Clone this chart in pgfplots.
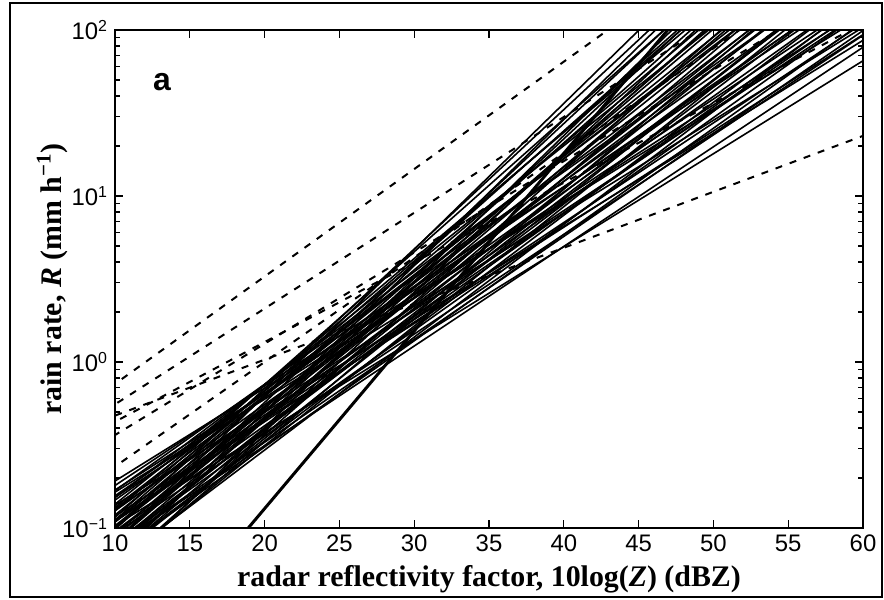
\documentclass[border=0pt]{standalone}
\usepackage{fontspec}
\setmainfont{Liberation Serif}
\setsansfont{Liberation Sans}
\usepackage{pgfplots}
\pgfplotsset{compat=1.18}
\pgfplotsset{
  zr/.style={black, line width=0.8bp, mark=none},
  zd/.style={black, line width=1bp, mark=none, dash pattern=on 3.5bp off 4bp},
}
\begin{document}
\begin{tikzpicture}
\useasboundingbox (0,0) rectangle (442bp,300bp);
\draw[line width=0.9bp] (5bp,1.5bp) rectangle (441bp,298.5bp);
\begin{axis}[
  at={(57.5bp,36bp)}, anchor=south west,
  width=374bp, height=249bp, scale only axis,
  xmin=10, xmax=60, ymin=0.1, ymax=100, ymode=log,
  xtick={10,15,...,60},
  ytick={0.1,1,10,100},
  yticklabels={10\textsuperscript{−1},10\textsuperscript{0},10\textsuperscript{1},10\textsuperscript{2}},
  /pgf/number format/assume math mode=true,
  ticklabel style={font=\fontsize{12}{14}\sffamily},
  major tick length=4bp, minor tick length=2.5bp,
  every tick/.style={black, line width=0.6bp},
  axis line style={line width=0.9bp},
  xlabel={\bfseries radar reflectivity factor, 10log(\textit{Z}) (dBZ)},
  ylabel={\bfseries rain rate, \textit{R} (mm h\textsuperscript{−1})},
  xlabel style={at={(axis description cs:0.5,-0.1165)}, anchor=base, font=\fontsize{15}{18}\selectfont},
  ylabel style={at={(axis description cs:-0.0722,0.5)}, anchor=base, rotate=0, font=\fontsize{15}{18}\selectfont},
  clip=true,
]
% dashed relations
\addplot[zd] coordinates {(-18.87,0.01) (42.95,100)};
\addplot[zd] coordinates {(-20.24,0.01) (49.08,100)};
\addplot[zd] coordinates {(-24.17,0.01) (59.17,100)};
\addplot[zd] coordinates {(-39.76,0.01) (78.92,100)};
\addplot[zd] coordinates {(-11.75,0.01) (51.75,100)};
\addplot[zd] coordinates {(-18.36,0.01) (54.36,100)};
% solid relations (crossing R=0.01 and R=100)
\addplot[zr] coordinates {(-12.91,0.01) (58.51,100)};
\addplot[zr] coordinates {(-11.71,0.01) (59.71,100)};
\addplot[zr] coordinates {(-10.31,0.01) (61.11,100)};
\addplot[zr] coordinates {(-8.11,0.01) (63.31,100)};
\addplot[zr] coordinates {(-11.18,0.01) (57.78,100)};
\addplot[zr] coordinates {(-8.48,0.01) (60.48,100)};
\addplot[zr] coordinates {(-10.93,0.01) (55.73,100)};
\addplot[zr] coordinates {(-9.73,0.01) (56.93,100)};
\addplot[zr] coordinates {(-8.53,0.01) (58.13,100)};
\addplot[zr] coordinates {(-7.33,0.01) (59.33,100)};
\addplot[zr] coordinates {(-6.13,0.01) (60.53,100)};
\addplot[zr] coordinates {(-4.93,0.01) (61.73,100)};
\addplot[zr] coordinates {(-9.26,0.01) (55.26,100)};
\addplot[zr] coordinates {(-6.76,0.01) (57.76,100)};
\addplot[zr] coordinates {(-4.46,0.01) (60.06,100)};
\addplot[zr] coordinates {(-9.15,0.01) (53.35,100)};
\addplot[zr] coordinates {(-8.25,0.01) (54.25,100)};
\addplot[zr] coordinates {(-7.25,0.01) (55.25,100)};
\addplot[zr] coordinates {(-6.25,0.01) (56.25,100)};
\addplot[zr] coordinates {(-5.25,0.01) (57.25,100)};
\addplot[zr] coordinates {(-4.25,0.01) (58.25,100)};
\addplot[zr] coordinates {(-3.25,0.01) (59.25,100)};
\addplot[zr] coordinates {(-7.41,0.01) (51.41,100)};
\addplot[zr] coordinates {(-6.41,0.01) (52.41,100)};
\addplot[zr] coordinates {(-5.41,0.01) (53.41,100)};
\addplot[zr] coordinates {(-4.41,0.01) (54.41,100)};
\addplot[zr] coordinates {(-3.41,0.01) (55.41,100)};
\addplot[zr] coordinates {(-2.41,0.01) (56.41,100)};
\addplot[zr] coordinates {(-1.61,0.01) (57.21,100)};
\addplot[zr] coordinates {(-6.07,0.01) (51.07,100)};
\addplot[zr] coordinates {(-4.37,0.01) (52.77,100)};
\addplot[zr] coordinates {(-2.77,0.01) (54.37,100)};
\addplot[zr] coordinates {(-5.88,0.01) (49.68,100)};
\addplot[zr] coordinates {(-4.98,0.01) (50.58,100)};
\addplot[zr] coordinates {(-4.08,0.01) (51.48,100)};
\addplot[zr] coordinates {(-3.18,0.01) (52.38,100)};
\addplot[zr] coordinates {(-2.28,0.01) (53.28,100)};
\addplot[zr] coordinates {(-1.38,0.01) (54.18,100)};
\addplot[zr] coordinates {(-0.78,0.01) (54.78,100)};
\addplot[zr] coordinates {(-4.52,0.01) (48.12,100)};
\addplot[zr] coordinates {(-3.62,0.01) (49.02,100)};
\addplot[zr] coordinates {(-2.72,0.01) (49.92,100)};
\addplot[zr] coordinates {(-1.82,0.01) (50.82,100)};
\addplot[zr] coordinates {(-0.92,0.01) (51.72,100)};
\addplot[zr] coordinates {(-0.02,0.01) (52.62,100)};
\addplot[zr] coordinates {(-3.44,0.01) (47.84,100)};
\addplot[zr] coordinates {(-1.74,0.01) (49.54,100)};
\addplot[zr] coordinates {(-3.30,0.01) (46.70,100)};
\addplot[zr] coordinates {(-2.40,0.01) (47.60,100)};
\addplot[zr] coordinates {(-1.50,0.01) (48.50,100)};
\addplot[zr] coordinates {(-0.60,0.01) (49.40,100)};
\addplot[zr] coordinates {(0.50,0.01) (50.50,100)};
\addplot[zr] coordinates {(-1.91,0.01) (45.71,100)};
\addplot[zr] coordinates {(-0.91,0.01) (46.71,100)};
\addplot[zr] coordinates {(0.19,0.01) (47.81,100)};
\addplot[zr] coordinates {(1.19,0.01) (48.81,100)};
\addplot[zr] coordinates {(-0.43,0.01) (45.03,100)};
\addplot[zr] coordinates {(0.67,0.01) (46.13,100)};
\addplot[zr] coordinates {(1.77,0.01) (47.23,100)};
% thick reference relation
\addplot[black, line width=1.5bp, mark=none] coordinates {(9.56,0.01) (46.95,100)};
\node[font=\fontsize{16}{18}\sffamily\bfseries] at (axis cs:13.14,48.6) {a};
\end{axis}
\end{tikzpicture}
\end{document}
